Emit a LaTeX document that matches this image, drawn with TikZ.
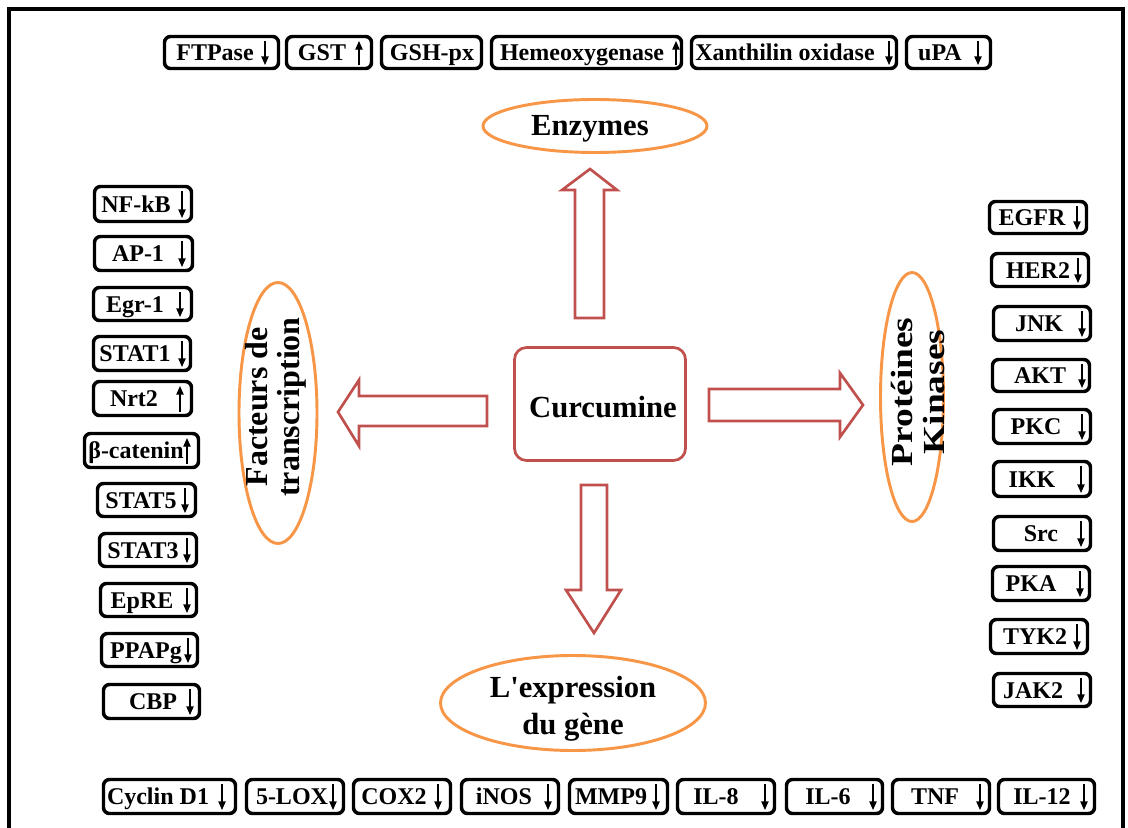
\documentclass[tikz,border=0pt]{standalone}
\usepackage{fontspec}
\setmainfont{Liberation Serif}
\usetikzlibrary{arrows.meta,shapes.geometric}
\definecolor{ored}{HTML}{C0504D}
\definecolor{oorange}{HTML}{F79646}
\tikzset{
 gbox/.style={draw=black, line width=2.6pt, rounded corners=4.5pt, fill=white, inner sep=0pt},
 glabel/.style={anchor=base, inner sep=0pt, font=\fontsize{18pt}{20pt}\selectfont\bfseries},
 garrow/.style={line width=1pt, -{Triangle[length=6.5pt,width=5.5pt]}},
 oval/.style={ellipse, draw=oorange, line width=2.2pt, inner sep=0pt},
 titlefont/.style={font=\fontsize{23pt}{28pt}\selectfont\bfseries},
 sidefont/.style={font=\fontsize{24pt}{24pt}\selectfont\bfseries},
 protfont/.style={font=\fontsize{23pt}{24pt}\selectfont\bfseries},
 blockarrow/.style={draw=ored, line width=2pt, fill=white, line join=miter},
 centerbox/.style={draw=ored, line width=2pt, rounded corners=9pt, inner sep=0pt},
}
% name, x1, y1, x2, y2, text x, text, arrow x, direction (d/u/n)
\newcommand\gb[9]{%
 \node[gbox, minimum width={(#4-#2-3)*0.75pt}, minimum height={(#5-#3-3)*0.75pt}] (#1) at ({(#2+#4)/2},{(#3+#5)/2}) {};
 \node[glabel] (#1-t) at (#6,{(#3+#5)/2+8}) {#7};
 \if d#9\draw[garrow] (#8,{#3+6}) -- (#8,{#5-5});\fi
 \if u#9\draw[garrow] (#8,{#5-5}) -- (#8,{#3+6});\fi
}
\begin{document}
\begin{tikzpicture}[x=0.75pt,y=-0.75pt]
\fill[white] (0,0) rectangle (1128,828);
\useasboundingbox (0,0) rectangle (1128,828);
% frame
\draw[line width=3pt] (9,850) -- (9,9) -- (1123,9) -- (1123,850);

% top row
\gb{ftp}{163}{35}{280}{70}{215}{FTPase}{265}{d}
\gb{gst}{285}{35}{373}{70}{322}{GST}{359}{u}
\gb{gsh}{380}{35}{483}{70}{432}{GSH-px}{0}{n}
\gb{hem}{490}{35}{683}{70}{582}{Hemeoxygenase}{676}{u}
\gb{xan}{690}{35}{898}{70}{785}{Xanthilin oxidase}{889}{d}
\gb{upa}{905}{35}{992}{70}{940}{uPA}{978}{d}

% left column
\gb{nfkb}{93}{185}{193}{223}{136}{NF-kB}{182}{d}
\gb{ap1}{93}{235}{194}{272}{138}{AP-1}{182}{d}
\gb{egr}{92}{286}{193}{322}{135}{Egr-1}{180}{d}
\gb{stat1}{92}{335}{192}{372}{135}{STAT1}{182}{d}
\gb{nrt}{92}{380}{193}{417}{134}{Nrt2}{180}{u}
\gb{bcat}{83}{432}{200}{469}{136}{β-catenin}{187}{u}
\gb{stat5}{96}{482}{197}{518}{141}{STAT5}{185}{d}
\gb{stat3}{98}{532}{198}{568}{143}{STAT3}{187}{d}
\gb{epre}{99}{582}{198}{618}{142}{EpRE}{187}{d}
\gb{ppap}{100}{632}{199}{668}{146}{PPAPg}{188}{d}
\gb{cbp}{102}{683}{201}{720}{153}{CBP}{190}{d}

% right column
\gb{egfr}{988}{200}{1088}{235}{1032}{EGFR}{1077}{d}
\gb{her}{990}{252}{1090}{288}{1038}{HER2}{1078}{d}
\gb{jnk}{992}{305}{1092}{342}{1039}{JNK}{1082}{d}
\gb{akt}{991}{358}{1091}{393}{1040}{AKT}{1082}{d}
\gb{pkc}{992}{408}{1092}{445}{1036}{PKC}{1082}{d}
\gb{ikk}{992}{460}{1092}{498}{1032}{IKK}{1081}{d}
\gb{src}{992}{515}{1092}{552}{1041}{Src}{1081}{d}
\gb{pka}{991}{565}{1091}{602}{1031}{PKA}{1080}{d}
\gb{tyk}{989}{618}{1089}{655}{1035}{TYK2}{1077}{d}
\gb{jak}{992}{672}{1092}{708}{1033}{JAK2}{1081}{d}

% bottom row
\gb{cyc}{102}{778}{237}{815}{158}{Cyclin D1}{222}{d}
\gb{lox}{245}{778}{345}{815}{292}{5-LOX}{333}{d}
\gb{cox}{352}{778}{452}{815}{394}{COX2}{438}{d}
\gb{inos}{460}{778}{560}{815}{504}{iNOS}{548}{d}
\gb{mmp}{568}{778}{669}{815}{611}{MMP9}{656}{d}
\gb{il8}{676}{778}{776}{815}{716}{IL-8}{765}{d}
\gb{il6}{785}{778}{884}{815}{828}{IL-6}{873}{d}
\gb{tnf}{891}{778}{991}{815}{935}{TNF}{980}{d}
\gb{il12}{997}{778}{1096}{815}{1042}{IL-12}{1084}{d}

% centre
\node[centerbox, minimum width={171*0.75pt}, minimum height={113*0.75pt}] (cur) at (600,404) {};
\node[titlefont, inner sep=0pt] (cur-t) at (603,407) {Curcumine};

% ovals
\node[oval, minimum width={224*0.75pt}, minimum height={53*0.75pt}] (enz) at (595,126) {};
\node[titlefont, anchor=base, inner sep=0pt] (enz-t) at (590,135) {Enzymes};
\node[oval, minimum width={265*0.75pt}, minimum height={95*0.75pt}] (expr) at (573,703) {};
\node[titlefont, align=center, inner sep=0pt] (expr-t) at (573,709) {L\textquotesingle expression\\du gène};
\node[oval, minimum width={78*0.75pt}, minimum height={261*0.75pt}] (fact) at (278,413) {};
\node[sidefont, rotate=90, align=center, inner sep=0pt] (fact-t) at (276,407) {Facteurs de\\transcription};
\node[oval, minimum width={63*0.75pt}, minimum height={249*0.75pt}] (prot) at (912,397) {};
\node[protfont, rotate=90, xscale=1.22, align=center, inner sep=0pt] (prot-t) at (918,392) {Protéines\\Kinases};

% block arrows
\draw[blockarrow] (575,318) -- (575,190) -- (562,190) -- (590,169) -- (617,190) -- (604,190) -- (604,318) -- cycle;
\draw[blockarrow] (487,396) -- (359,396) -- (359,380) -- (338,412) -- (359,446) -- (359,426) -- (487,426) -- cycle;
\draw[blockarrow] (709,389) -- (840,389) -- (840,373) -- (863,405) -- (840,437) -- (840,421) -- (709,421) -- cycle;
\draw[blockarrow] (581,485) -- (607,485) -- (607,590) -- (621,590) -- (594,633) -- (566,590) -- (581,590) -- cycle;
\end{tikzpicture}
\end{document}
